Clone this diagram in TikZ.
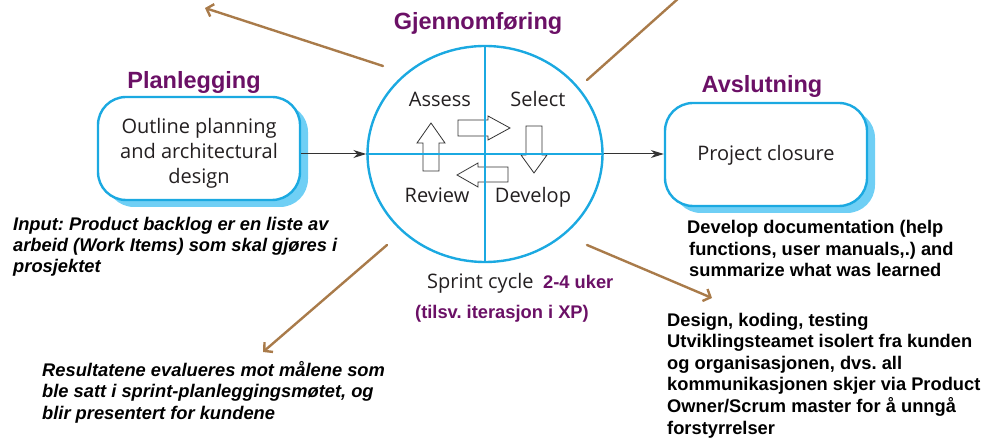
\documentclass[tikz,border=0pt]{standalone}
\usepackage{fontspec}
\setmainfont{Open Sans}
\newfontfamily\arialfont{Liberation Sans}
\usetikzlibrary{arrows.meta,shapes.geometric,shadows}
\frenchspacing

\definecolor{cycblue}{HTML}{1BA9E1}
\definecolor{shadowblue}{HTML}{6FCFF5}
\definecolor{titlepurple}{HTML}{6B1066}
\definecolor{notebrown}{HTML}{A97B4A}
\definecolor{inktext}{HTML}{231F20}
\definecolor{arrowgray}{HTML}{333333}

\tikzset{
  phasebox/.style={draw=cycblue, line width=2.4pt, fill=white, rounded corners=28pt,
    minimum width=202pt, minimum height=103pt,
    drop shadow={shadow xshift=8pt, shadow yshift=-7pt, fill=shadowblue, opacity=1}},
  boxtext/.style={align=center, text=inktext, inner sep=0pt,
    font=\fontsize{20}{25}\selectfont},
  phasetitle/.style={anchor=base, text=titlepurple, font=\arialfont\bfseries\fontsize{23.5}{28}\selectfont, inner sep=0pt},
  quadlabel/.style={anchor=base, text=inktext, font=\fontsize{20}{24}\selectfont, inner sep=0pt},
  captionnote/.style={anchor=base west, inner sep=0pt, text=titlepurple,
    font=\arialfont\bfseries\fontsize{18.3}{22}\selectfont},
  note/.style={anchor=base west, align=left, inner sep=0pt, text=black,
    font=\arialfont\bfseries\fontsize{18.3}{21.6}\selectfont},
  italicnote/.style={note, font=\arialfont\bfseries\itshape\fontsize{18.3}{21.4}\selectfont},
  flow/.style={draw=arrowgray, line width=1pt, -{Stealth[length=13pt,width=8pt]}},
  pointer/.style={draw=notebrown, line width=2.4pt, line cap=round,
    -{Straight Barb[length=6pt,width=13pt,line width=2.4pt]}},
  blockarrow/.style={draw=arrowgray, line width=0.8pt, fill=white, line join=miter},
  divider/.style={draw=cycblue, line width=2.4pt}
}

\begin{document}
\begin{tikzpicture}[x=1pt, y=-1pt]
\useasboundingbox (0,0) rectangle (991,438);

% phase titles
\node[phasetitle] (tplan) at (194,89) {Planlegging};
\node[phasetitle] (tgjen) at (478,30) {Gjennomføring};
\node[phasetitle] (tavsl) at (762,93) {Avslutning};

% planning and closure boxes
\node[phasebox] (plan) at (199,148.5) {};
\node[boxtext] (plantext) at (199,153.5) {Outline planning\\and architectural\\design};
\node[phasebox] (close) at (766,154.5) {};
\node[boxtext] (closetext) at (766,155.5) {Project closure};

% sprint cycle
\node[draw=cycblue, line width=2.4pt, ellipse, minimum width=235pt, minimum height=216pt,
      inner sep=0pt] (cyc) at (485,154) {};

% block arrows turning through the four steps
\draw[blockarrow] (458,120) -- (488,120) -- (488,116) -- (510,128) -- (488,140) -- (488,136) -- (458,136) -- cycle;
\draw[blockarrow] (526,126) -- (542,126) -- (542,155) -- (547,155) -- (534,173) -- (521,155) -- (526,155) -- cycle;
\draw[blockarrow] (508,167) -- (478,167) -- (478,163) -- (457,175) -- (478,187) -- (478,182) -- (508,182) -- cycle;
\draw[blockarrow] (423,171) -- (423,143) -- (417,143) -- (431,123) -- (445,143) -- (439,143) -- (439,171) -- cycle;

% quadrant dividers
\draw[divider] (cyc.north) -- (cyc.south);
\draw[divider] (cyc.west) -- (cyc.east);

\node[quadlabel] (assess) at (440,107) {Assess};
\node[quadlabel] (select) at (538,107) {Select};
\node[quadlabel] (review) at (437,203) {Review};
\node[quadlabel] (develop) at (533,203) {Develop};

% main flow
\draw[flow] (plan.east |- cyc.west) -- (cyc.west);
\draw[flow] (cyc.east) -- (close.west |- cyc.east);

% cycle caption
\node[quadlabel, anchor=base west] (sprint) at (427,289) {Sprint cycle};
\node[captionnote] (uker) at (543,289) {2-4 uker};
\node[captionnote] (tilsv) at (415,319) {(tilsv. iterasjon i XP)};

% notes (placed by the baseline of their last line)
\node[italicnote] (input) at (13,273) {Input: Product backlog er en liste av\\arbeid (Work Items) som skal gjøres i\\prosjektet};
\node[italicnote] (result) at (42,419) {Resultatene evalueres mot målene som\\ble satt i sprint-planleggingsmøtet, og\\blir presentert for kundene};
\node[note] (docs) at (687,277) {Develop documentation (help\\\hspace*{2pt}functions, user manuals,.) and\\\hspace*{2pt}summarize what was learned};
\node[note] (design) at (667,434) {Design, koding, testing\\Utviklingsteamet isolert fra kunden\\og organisasjonen, dvs. all\\kommunikasjonen skjer via Product\\Owner/Scrum master for å unngå\\forstyrrelser};

% pointers from the cycle
\coordinate (pA0) at (383,66);
\coordinate (pA1) at (205,8);
\coordinate (pB0) at (587,80);
\coordinate (pB1) at (680,-3);
\coordinate (pC0) at (387,245);
\coordinate (pC1) at (263,352);
\coordinate (pD0) at (587,245);
\coordinate (pD1) at (712,298);
\draw[pointer] (pA0) -- (pA1);
\draw[draw=notebrown, line width=2.4pt, line cap=round] (pB0) -- (pB1);
\draw[pointer] (pC0) -- (pC1);
\draw[pointer] (pD0) -- (pD1);
\end{tikzpicture}
\end{document}
